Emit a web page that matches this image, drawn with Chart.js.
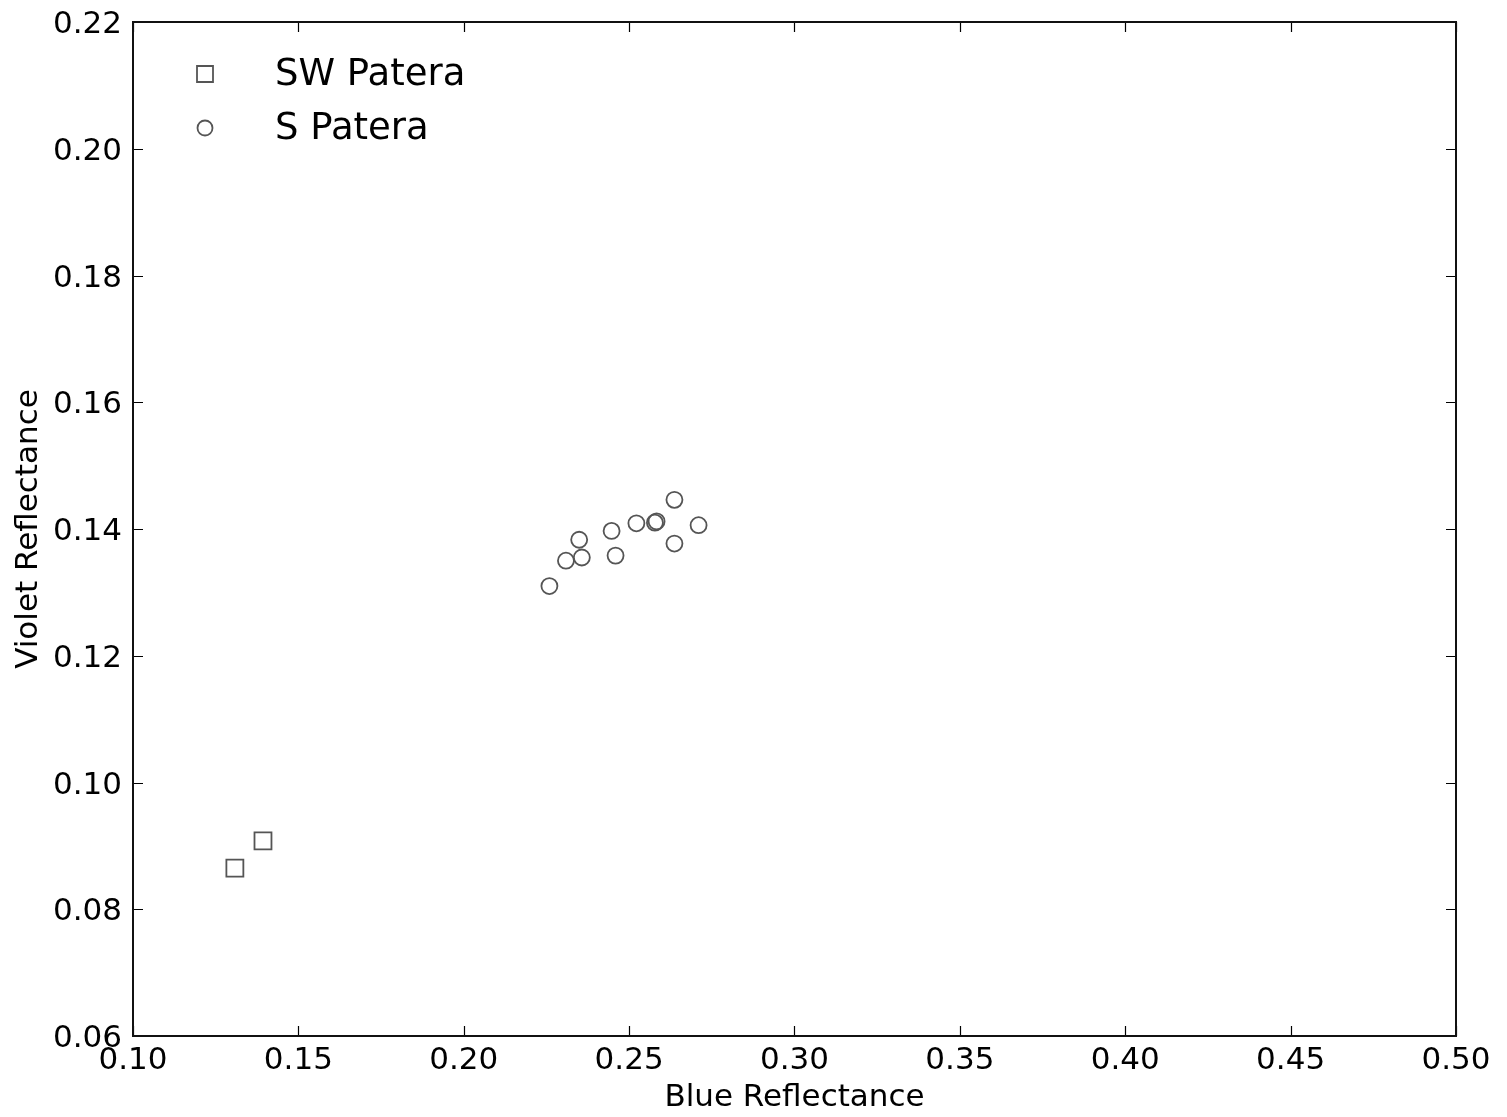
<!DOCTYPE html>
<html><head><meta charset="utf-8">
<script src="https://cdn.jsdelivr.net/npm/chart.js@4/dist/chart.umd.min.js"></script>
<style>html,body{margin:0;padding:0;background:#fff}#wrap{width:1507px;height:1117px}</style>
</head><body><div id="wrap"><canvas id="c" width="1507" height="1117"></canvas></div>
<script>
const seriesNames = ['SW Patera', 'S Patera'];
const swBlue   = [0.1308, 0.1393];
const swViolet = [0.0865, 0.0908];
const sBlue   = [0.2259, 0.2309, 0.2357, 0.2349, 0.2447, 0.2459, 0.2522, 0.2578, 0.2583, 0.2637, 0.2637, 0.2710];
const sViolet = [0.1310, 0.1350, 0.1355, 0.1383, 0.1397, 0.1358, 0.1409, 0.1410, 0.1412, 0.1446, 0.1377, 0.1406];
const xTicks = [0.10, 0.15, 0.20, 0.25, 0.30, 0.35, 0.40, 0.45, 0.50];
const yTicks = [0.06, 0.08, 0.10, 0.12, 0.14, 0.16, 0.18, 0.20, 0.22];
const xTitle = 'Blue Reflectance';
const yTitle = 'Violet Reflectance';

const FONT = 'DejaVu Sans';
const MARK = '#555555';

const toPts = (xs, ys) => xs.map((x, i) => ({x: x, y: ys[i]}));

const frameTicks = {
  id: 'frameTicks',
  afterDatasetsDraw(chart) {
    const {ctx, chartArea: a, scales} = chart;
    ctx.save();
    ctx.strokeStyle = '#000';
    ctx.lineWidth = 1.2;
    const L = 10;
    ctx.beginPath();
    scales.x.ticks.forEach(t => {
      const px = Math.round(scales.x.getPixelForValue(t.value)) + 0.5;
      ctx.moveTo(px, a.bottom); ctx.lineTo(px, a.bottom - L);
      ctx.moveTo(px, a.top); ctx.lineTo(px, a.top + L);
    });
    scales.y.ticks.forEach(t => {
      const py = Math.round(scales.y.getPixelForValue(t.value)) + 0.5;
      ctx.moveTo(a.left, py); ctx.lineTo(a.left + L, py);
      ctx.moveTo(a.right, py); ctx.lineTo(a.right - L, py);
    });
    ctx.stroke();
    ctx.lineWidth = 2;
    ctx.strokeStyle = '#111';
    ctx.strokeRect(a.left, a.top, a.right - a.left, a.bottom - a.top);
    ctx.restore();
  }
};

const inLegend = {
  id: 'inLegend',
  afterDraw(chart) {
    const {ctx, chartArea: a} = chart;
    ctx.save();
    const mx = a.left + 72, tx = a.left + 142;
    const rows = [a.top + 52, a.top + 106];
    chart.data.datasets.forEach((ds, i) => {
      const y = rows[i];
      ctx.strokeStyle = MARK;
      ctx.lineWidth = 1.8;
      ctx.beginPath();
      if (ds.pointStyle === 'rect') {
        ctx.rect(mx - 8, y - 8, 16, 16);
      } else {
        ctx.arc(mx, y, 7.5, 0, Math.PI * 2);
      }
      ctx.stroke();
      ctx.fillStyle = '#000';
      ctx.font = '37px "' + FONT + '"';
      ctx.textBaseline = 'middle';
      ctx.textAlign = 'left';
      ctx.fillText(ds.label, tx, y + 1);
    });
    ctx.restore();
  }
};

new Chart(document.getElementById('c'), {
  type: 'scatter',
  data: {
    datasets: [
      {label: seriesNames[0], data: toPts(swBlue, swViolet), pointStyle: 'rect',
       pointRadius: 12, pointHoverRadius: 12, borderColor: MARK, backgroundColor: 'rgba(0,0,0,0)', borderWidth: 1.8},
      {label: seriesNames[1], data: toPts(sBlue, sViolet), pointStyle: 'circle',
       pointRadius: 8, pointHoverRadius: 8, borderColor: MARK, backgroundColor: 'rgba(0,0,0,0)', borderWidth: 1.8}
    ]
  },
  options: {
    responsive: false,
    animation: false,
    devicePixelRatio: 1,
    layout: {padding: {left: 0, right: 51, top: 22, bottom: 0}},
    plugins: {legend: {display: false}, tooltip: {enabled: false}},
    scales: {
      x: {
        type: 'linear', min: 0.10, max: 0.50,
        afterBuildTicks: s => { s.ticks = xTicks.map(v => ({value: v})); },
        afterFit: s => { s.height = 81; s.paddingLeft = 0; s.paddingRight = 0; },
        grid: {display: false, drawTicks: false},
        border: {display: false},
        ticks: {color: '#000', font: {family: FONT, size: 31}, padding: 6,
                callback: v => Number(v).toFixed(2), maxRotation: 0, autoSkip: false},
        title: {display: true, text: xTitle, color: '#000',
                font: {family: FONT, size: 31, lineHeight: 1.2}, padding: {top: 0, bottom: 0}}
      },
      y: {
        type: 'linear', min: 0.06, max: 0.22,
        afterBuildTicks: s => { s.ticks = yTicks.map(v => ({value: v})); },
        afterFit: s => { s.width = 133; s.paddingTop = 0; s.paddingBottom = 0; },
        grid: {display: false, drawTicks: false},
        border: {display: false},
        ticks: {color: '#000', font: {family: FONT, size: 31}, padding: 11, labelOffset: 3,
                callback: v => Number(v).toFixed(2), autoSkip: false},
        title: {display: true, text: yTitle, color: '#000',
                font: {family: FONT, size: 31, lineHeight: 1.0}, padding: {top: 13, bottom: 0}}
      }
    }
  },
  plugins: [frameTicks, inLegend]
});
</script>
</body></html>
